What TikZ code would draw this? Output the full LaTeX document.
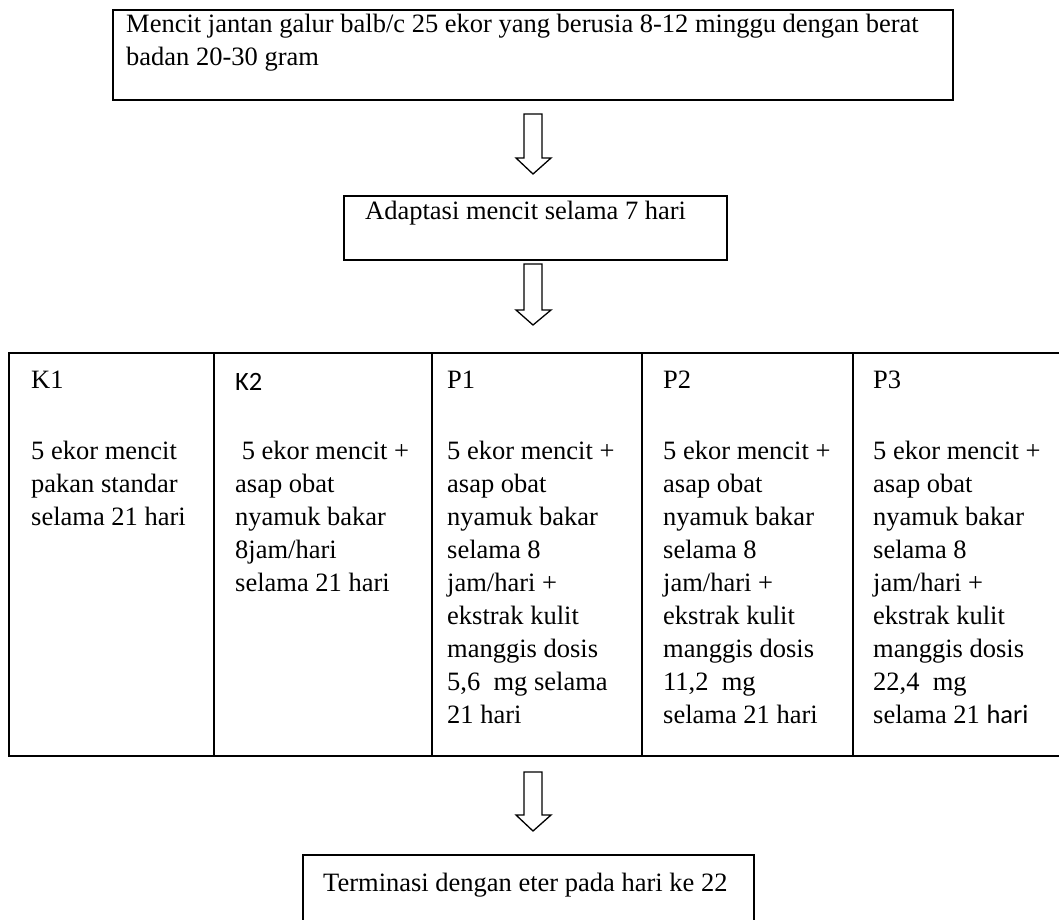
\documentclass[tikz,border=0pt]{standalone}
\usepackage{fontspec}
\setmainfont{Liberation Serif}
\newfontfamily\carlitofont{Carlito}
\newcommand\celllines[1]{\begin{tabular}[t]{@{}l@{}}#1\end{tabular}}
\begin{document}
\begin{tikzpicture}[x=1pt,y=-1pt,
  txt/.style={anchor=base west,inner sep=0pt,font=\fontsize{26.5}{33}\selectfont},
  boxline/.style={draw=black,line width=1.6pt},
  gridline/.style={draw=black,line width=2pt},
  arrowline/.style={draw=black,line width=1.3pt,line join=miter}]
\useasboundingbox (0,0) rectangle (1059,919);
\newcommand\blockarrow[3]{%
  \draw[arrowline] (524,#1) -- (542,#1) -- (542,#2) -- (551,#2) -- (533,#3) -- (516,#2) -- (524,#2) -- cycle;}
% box 1
\draw[boxline] (113,10) rectangle (953,100);
\node[txt] (b1) at (126,32) {\celllines{Mencit jantan galur balb/c 25 ekor yang berusia 8-12 minggu dengan berat\\badan 20-30 gram}};
\blockarrow{114}{158}{174}
% box 2
\draw[boxline] (344,196) rectangle (727,260);
\node[txt] (b2) at (365,219) {Adaptasi mencit selama 7 hari};
\blockarrow{264}{310}{325}
% table
\draw[gridline] (1070,353) -- (9,353) -- (9,756) -- (1070,756);
\foreach \xx in {214,432,642,853} \draw[gridline] (\xx,353) -- (\xx,756);
\node[txt] (k1h) at (31,388) {K1};
\node[txt] (k2h) at (235,390) {\carlitofont K2};
\node[txt] (p1h) at (447,388) {P1};
\node[txt] (p2h) at (663,388) {P2};
\node[txt] (p3h) at (873,388) {P3};
\node[txt] (k1b) at (31,459) {\celllines{5 ekor mencit\\pakan standar\\selama 21 hari}};
\node[txt] (k2b) at (235,459) {\celllines{\ 5 ekor mencit +\\asap obat\\nyamuk bakar\\8jam/hari\\selama 21 hari}};
\node[txt] (p1b) at (447,459) {\celllines{5 ekor mencit +\\asap obat\\nyamuk bakar\\selama 8\\jam/hari +\\ekstrak kulit\\manggis dosis\\5,6~ mg selama\\21 hari}};
\node[txt] (p2b) at (663,459) {\celllines{5 ekor mencit +\\asap obat\\nyamuk bakar\\selama 8\\jam/hari +\\ekstrak kulit\\manggis dosis\\11,2~ mg\\selama 21 hari}};
\node[txt] (p3b) at (873,459) {\celllines{5 ekor mencit +\\asap obat\\nyamuk bakar\\selama 8\\jam/hari +\\ekstrak kulit\\manggis dosis\\22,4~ mg\\selama 21 {\carlitofont hari}}};
\blockarrow{772}{815}{831}
% box 4
\draw[boxline] (303,930) -- (303,855) -- (754,855) -- (754,930);
\node[txt] (b4) at (323,891) {Terminasi dengan eter pada hari ke 22};
\end{tikzpicture}
\end{document}
